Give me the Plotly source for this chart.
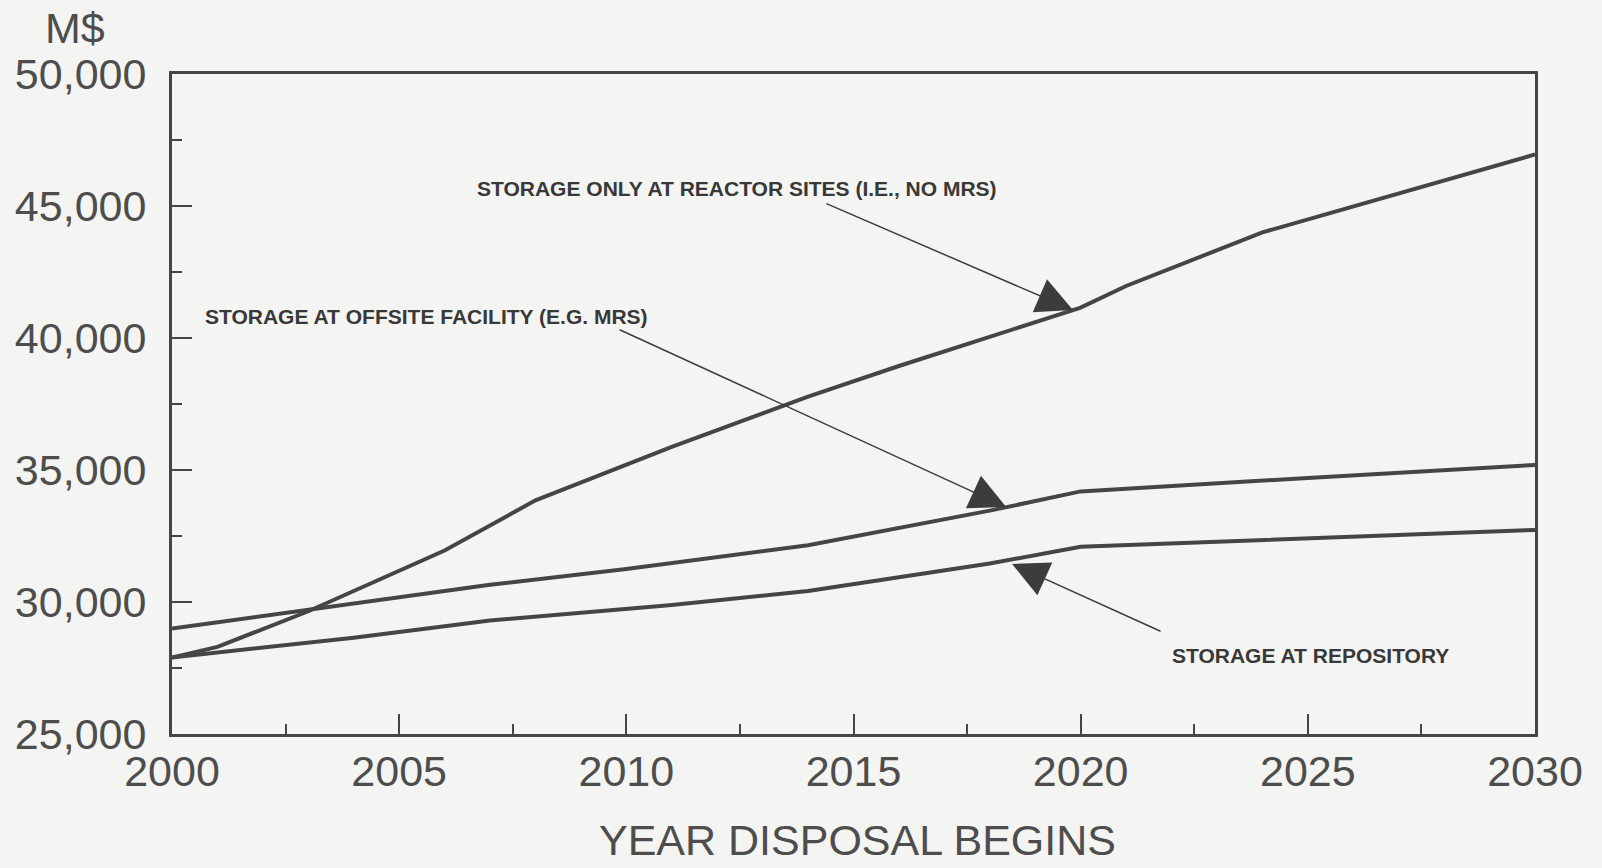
import plotly.graph_objects as go

# ---- data ----
reactor_years = [2000, 2001, 2003, 2006, 2008, 2011, 2014, 2016, 2020, 2021, 2024, 2028, 2030]
reactor_cost = [27900, 28300, 29650, 31950, 33850, 35880, 37780, 38940, 41150, 41970, 44000, 45980, 46950]

offsite_years = [2000, 2007, 2010, 2014, 2018, 2020, 2025, 2030]
offsite_cost = [29000, 30650, 31250, 32150, 33460, 34190, 34700, 35190]

repository_years = [2000, 2004, 2007, 2011, 2014, 2018, 2020, 2025, 2030]
repository_cost = [27900, 28650, 29300, 29890, 30420, 31460, 32090, 32420, 32730]

x_ticks = [2000, 2005, 2010, 2015, 2020, 2025, 2030]
y_ticks = [25000, 30000, 35000, 40000, 45000, 50000]
y_tick_text = ["25,000", "30,000", "35,000", "40,000", "45,000", "50,000"]

label_reactor = "STORAGE ONLY AT REACTOR SITES (I.E., NO MRS)"
label_offsite = "STORAGE AT OFFSITE FACILITY (E.G. MRS)"
label_repository = "STORAGE AT REPOSITORY"

# ---- style ----
BG = "#f4f4f2"
INK = "#454545"
FONT = "Liberation Sans, Arial, sans-serif"

fig = go.Figure()
for xs, ys in [(reactor_years, reactor_cost), (offsite_years, offsite_cost),
               (repository_years, repository_cost)]:
    fig.add_trace(go.Scatter(x=xs, y=ys, mode="lines",
                             line=dict(color=INK, width=4), showlegend=False,
                             hoverinfo="skip"))

axis_common = dict(showline=True, mirror=True, linecolor=INK, linewidth=3,
                   showgrid=False, zeroline=False, ticks="inside", ticklen=20,
                   tickwidth=1.5, tickcolor=INK,
                   tickfont=dict(family=FONT, size=43, color="#4d4d4d"))

fig.update_xaxes(range=[2000, 2030], tickvals=x_ticks, ticklabelstandoff=-3,
                 minor=dict(ticks="inside", ticklen=10, dtick=2.5, tick0=2000,
                            tickcolor=INK, tickwidth=1.5),
                 **axis_common)
fig.update_yaxes(range=[25000, 50000], tickvals=y_ticks, ticktext=y_tick_text,
                 ticklabelstandoff=14,
                 minor=dict(ticks="inside", ticklen=10, dtick=2500, tick0=25000,
                            tickcolor=INK, tickwidth=1.5),
                 **axis_common)

text_font = dict(family=FONT, size=21, color="#383838")
arrow_style = dict(showarrow=True, arrowhead=2, arrowsize=4.8, arrowwidth=1.5,
                   arrowcolor="#3c3c3c", text="")
annotations = [
    # axis texts
    dict(text="M$", xref="paper", yref="paper", x=-0.071, y=1.07, showarrow=False,
         font=dict(family=FONT, size=43, color="#4d4d4d"), xanchor="center", yanchor="middle"),
    dict(text="YEAR DISPOSAL BEGINS", xref="paper", yref="paper", x=0.503, y=-0.16,
         showarrow=False, font=dict(family=FONT, size=43, color="#4d4d4d"),
         xanchor="center", yanchor="middle"),
    # series labels
    dict(text="<b>" + label_reactor + "</b>", x=2012.44, y=45680, showarrow=False,
         font=text_font, xanchor="center", yanchor="middle"),
    dict(text="<b>" + label_offsite + "</b>", x=2005.6, y=40830, showarrow=False,
         font=text_font, xanchor="center", yanchor="middle"),
    dict(text="<b>" + label_repository + "</b>", x=2025.05, y=27990, showarrow=False,
         font=text_font, xanchor="center", yanchor="middle"),
    # pointer arrows
    dict(x=2019.83, y=41060, ax=-248, ay=-107, **arrow_style),
    dict(x=2018.36, y=33598, ax=-388, ay=-178, **arrow_style),
    dict(x=2018.49, y=31440, ax=150, ay=68, **arrow_style),
]

fig.update_layout(
    width=1602, height=868,
    margin=dict(l=172, r=67, t=74, b=134),
    paper_bgcolor=BG, plot_bgcolor=BG,
    font=dict(family=FONT, color=INK),
    annotations=annotations,
    showlegend=False,
)

fig.write_html("out.html",
               config={"displayModeBar": False},
               post_script="document.body.style.margin='0';"
                           "document.body.style.background='" + BG + "';")
